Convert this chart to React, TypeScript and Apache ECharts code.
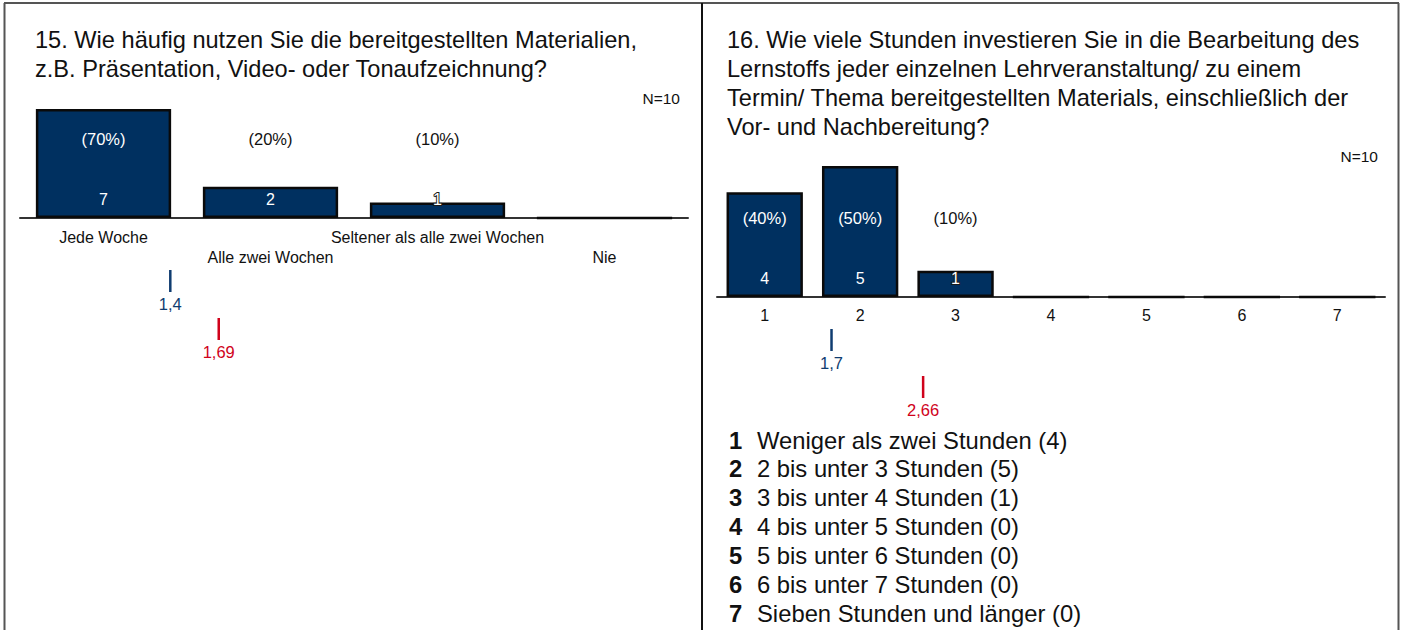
import React, { useEffect, useRef } from "react";
import * as echarts from "echarts";

// ---------- data ----------
const title1 = ["15. Wie häufig nutzen Sie die bereitgestellten Materialien,", "z.B. Präsentation, Video- oder Tonaufzeichnung?"];
const cats1 = ["Jede Woche", "Alle zwei Wochen", "Seltener als alle zwei Wochen", "Nie"];
const counts1 = [7, 2, 1, 0];
const pct1 = [70, 20, 10, 0];
const means1 = [1.4, 1.69];
const n1 = "N=10";

const title2 = [
  "16. Wie viele Stunden investieren Sie in die Bearbeitung des",
  "Lernstoffs jeder einzelnen Lehrveranstaltung/ zu einem",
  "Termin/ Thema bereitgestellten Materials, einschließlich der",
  "Vor- und Nachbereitung?",
];
const cats2 = ["1", "2", "3", "4", "5", "6", "7"];
const counts2 = [4, 5, 1, 0, 0, 0, 0];
const pct2 = [40, 50, 10, 0, 0, 0, 0];
const means2 = [1.7, 2.66];
const n2 = "N=10";
const legend2 = [
  "Weniger als zwei Stunden",
  "2 bis unter 3 Stunden",
  "3 bis unter 4 Stunden",
  "4 bis unter 5 Stunden",
  "5 bis unter 6 Stunden",
  "6 bis unter 7 Stunden",
  "Sieben Stunden und länger",
];

// ---------- styles ----------
const FONT = "'Liberation Sans', Arial, sans-serif";
const BAR = "#003060";
const BLUE = "#0f3c70";
const RED = "#d0021b";

const fmt = (v: number) => String(v).replace(".", ",");

function labelSeries(grid: number, counts: number[], pct: number[]) {
  return {
    type: "custom",
    xAxisIndex: grid * 2,
    yAxisIndex: grid,
    z: 10,
    data: counts.map((v, i) => [i, v, pct[i]]),
    renderItem: (params: any, api: any) => {
      const i = api.value(0);
      const v = api.value(1);
      const p = api.value(2);
      if (!v) return { type: "group", children: [] };
      const base = api.coord([i, 0]);
      const top = api.coord([i, v]);
      const py = base[1] - 79;
      const cy = base[1] - 19;
      const inside = top[1] < cy - 9;
      const common = { text: String(v), x: base[0], y: cy, align: "center", verticalAlign: "middle", fontSize: 16, fontFamily: FONT };
      const children: any[] = [
        {
          type: "text",
          style: {
            text: `(${p}%)`, x: base[0], y: py, align: "center", verticalAlign: "middle",
            fill: top[1] < py ? "#ffffff" : "#111111", fontSize: 16.5, fontFamily: FONT,
          },
        },
      ];
      if (!inside) {
        children.push({ type: "text", style: { ...common, fill: "#1a1a1a", stroke: "#1a1a1a", lineWidth: 2 } });
      }
      children.push({ type: "text", style: { ...common, fill: "#ffffff" } });
      return { type: "group", children };
    },
  };
}

function meanSeries(grid: number, means: number[], offsets: number[]) {
  const colors = [BLUE, RED];
  return {
    type: "custom",
    xAxisIndex: grid * 2 + 1,
    yAxisIndex: grid,
    clip: false,
    z: 10,
    data: means.map((m, k) => [m, k]),
    renderItem: (params: any, api: any) => {
      const m = api.value(0);
      const k = api.value(1);
      const pt = api.coord([m, 0]);
      const off = offsets[k];
      return {
        type: "group",
        children: [
          {
            type: "line",
            shape: { x1: pt[0], y1: pt[1] + off, x2: pt[0], y2: pt[1] + off + 22 },
            style: { stroke: colors[k], lineWidth: 2.5 },
          },
          {
            type: "text",
            style: {
              text: fmt(m), x: pt[0], y: pt[1] + off + 34, align: "center", verticalAlign: "middle",
              fill: colors[k], fontSize: 16.5, fontFamily: FONT,
            },
          },
        ],
      };
    },
  };
}

export default function App() {
  const ref = useRef<HTMLDivElement>(null);
  useEffect(() => {
    document.body.style.margin = "0";
    const chart = echarts.init(ref.current!, null, { renderer: "svg" });

    const graphics: any[] = [
      // frame
      { type: "line", shape: { x1: 4, y1: 3, x2: 1399, y2: 3 }, style: { stroke: "#555", lineWidth: 2 } },
      { type: "line", shape: { x1: 4.5, y1: 3, x2: 4.5, y2: 630 }, style: { stroke: "#555", lineWidth: 2 } },
      { type: "line", shape: { x1: 1398.5, y1: 3, x2: 1398.5, y2: 630 }, style: { stroke: "#555", lineWidth: 2 } },
      { type: "line", shape: { x1: 702, y1: 3, x2: 702, y2: 630 }, style: { stroke: "#111", lineWidth: 2 } },
      // titles
      {
        type: "text", x: 35, y: 25.5,
        style: { text: title1.join("\n"), fontSize: 23.6, lineHeight: 29, fontFamily: FONT, fill: "#111", verticalAlign: "top" },
      },
      {
        type: "text", x: 727, y: 25.5,
        style: { text: title2.join("\n"), fontSize: 23.6, lineHeight: 29, fontFamily: FONT, fill: "#111", verticalAlign: "top" },
      },
      {
        type: "text", x: 680, y: 98,
        style: { text: n1, fontSize: 15.5, fontFamily: FONT, fill: "#111", align: "right", verticalAlign: "middle" },
      },
      {
        type: "text", x: 1378, y: 156,
        style: { text: n2, fontSize: 15.5, fontFamily: FONT, fill: "#111", align: "right", verticalAlign: "middle" },
      },
    ];
    legend2.forEach((t, k) => {
      const y = 440 + k * 28.9;
      graphics.push({
        type: "text", x: 729, y,
        style: { text: cats2[k], fontSize: 23.8, fontWeight: "bold", fontFamily: FONT, fill: "#111", verticalAlign: "middle" },
      });
      graphics.push({
        type: "text", x: 757, y,
        style: { text: `${t} (${counts2[k]})`, fontSize: 23.8, fontFamily: FONT, fill: "#111", verticalAlign: "middle" },
      });
    });

    const catAxis = (grid: number, data: string[], margin: number, stagger: boolean) => ({
      type: "category",
      gridIndex: grid,
      data,
      axisLine: { lineStyle: { color: "#333", width: 2 } },
      axisTick: { alignWithLabel: true, length: 5, lineStyle: { color: "#333", width: 1 } },
      axisLabel: {
        interval: 0,
        margin,
        color: "#111",
        fontSize: 16,
        fontFamily: FONT,
        lineHeight: 20,
        formatter: (v: string, i: number) => (stagger && i % 2 === 1 ? "\n" + v : v),
      },
    });

    const option: any = {
      animation: false,
      grid: [
        { left: 20, width: 668, top: 109, height: 109 },
        { left: 717, width: 668, top: 166, height: 131 },
      ],
      xAxis: [
        catAxis(0, cats1, 9, true),
        { type: "value", gridIndex: 0, min: 0.5, max: cats1.length + 0.5, show: false },
        catAxis(1, cats2, 8, false),
        { type: "value", gridIndex: 1, min: 0.5, max: cats2.length + 0.5, show: false },
      ],
      yAxis: [
        { type: "value", gridIndex: 0, min: 0, max: Math.max(...counts1), show: false },
        { type: "value", gridIndex: 1, min: 0, max: Math.max(...counts2), show: false },
      ],
      series: [
        {
          type: "bar", xAxisIndex: 0, yAxisIndex: 0, data: counts1, barCategoryGap: "19%",
          itemStyle: { color: BAR, borderColor: "#0a0a0a", borderWidth: 2.5 },
        },
        {
          type: "bar", xAxisIndex: 2, yAxisIndex: 1, data: counts2, barCategoryGap: "20%",
          itemStyle: { color: BAR, borderColor: "#0a0a0a", borderWidth: 2.5 },
        },
        labelSeries(0, counts1, pct1),
        labelSeries(1, counts2, pct2),
        meanSeries(0, means1, [52, 100]),
        meanSeries(1, means2, [32, 79]),
      ],
      graphic: graphics,
    };
    chart.setOption(option);
    return () => chart.dispose();
  }, []);
  return <div ref={ref} style={{ width: 1401, height: 630 }} />;
}
